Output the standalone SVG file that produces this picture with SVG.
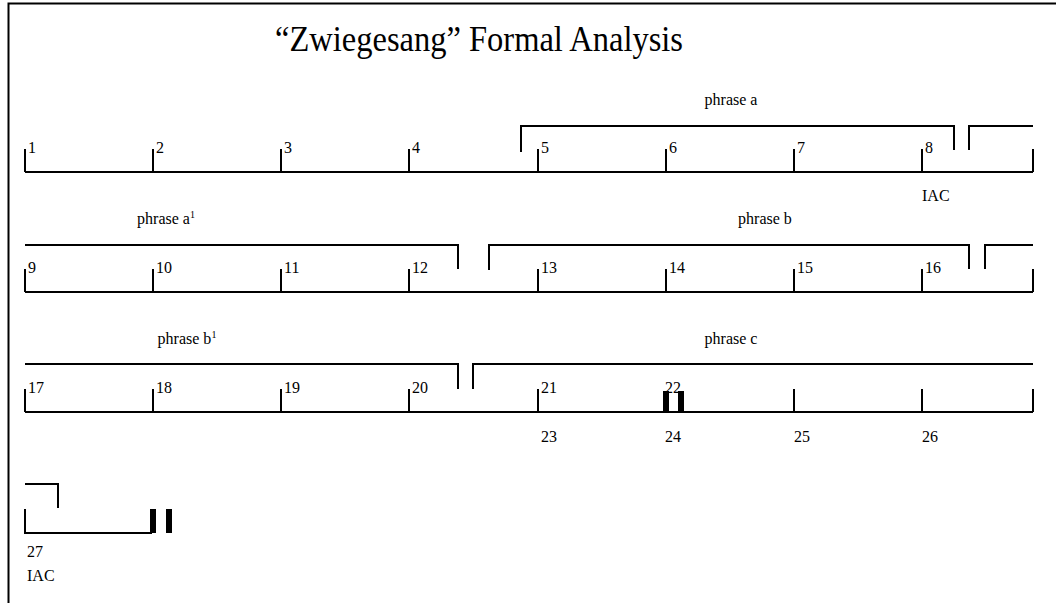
<svg xmlns="http://www.w3.org/2000/svg" width="1056" height="603" viewBox="0 0 1056 603">
  <style>
    .ln { stroke: #000; stroke-width: 2; fill: none; }
    .bar { fill: #000; }
    text { font-family: "Liberation Serif", "Times New Roman", serif; fill: #000; }
    .num { font-size: 16px; }
    .lab { font-size: 16px; }
    .title { font-size: 35px; }
  </style>
  <rect width="1056" height="603" fill="#fff"/>

  <!-- page frame -->
  <g id="frame">
    <path class="ln" d="M8.5 603 V3.5 H1056" stroke-width="2.5"/>
  </g>

  <text id="title" class="title" x="275" y="51" textLength="408" lengthAdjust="spacingAndGlyphs">“Zwiegesang” Formal Analysis</text>

  <!-- measure lines with bar ticks -->
  <g id="connectors">
    <!-- system 1: bars 1-8 -->
    <path class="ln" d="M25 172 H1033 M25 149 V172 M153 149 V172 M281 149 V172 M409 149 V172 M538 149 V172 M666 149 V172 M794 149 V172 M922 149 V172 M1033 149 V172"/>
    <!-- system 2: bars 9-16 -->
    <path class="ln" d="M25 292 H1033 M25 269 V292 M153 269 V292 M281 269 V292 M409 269 V292 M538 269 V292 M666 269 V292 M794 269 V292 M922 269 V292 M1033 269 V292"/>
    <!-- system 3: bars 17-26 -->
    <path class="ln" d="M25 412 H1033 M25 389 V412 M153 389 V412 M281 389 V412 M409 389 V412 M538 389 V412 M794 389 V412 M922 389 V412 M1033 389 V412"/>
    <rect class="bar" x="663" y="391" width="6" height="21"/>
    <rect class="bar" x="678" y="391" width="6" height="21"/>
    <!-- system 4: bar 27 -->
    <path class="ln" d="M25 509 V533 H152"/>
    <rect class="bar" x="150" y="509" width="6" height="24"/>
    <rect class="bar" x="166" y="509" width="6" height="24"/>
  </g>

  <!-- phrase brackets -->
  <g id="phrase-a">
    <path class="ln" d="M521 152 V126 H954 V150"/>
    <text class="lab" x="731" y="105" text-anchor="middle">phrase a</text>
  </g>
  <g id="phrase-a-cont">
    <path class="ln" d="M969 150 V126 H1033"/>
  </g>
  <g id="phrase-a1">
    <path class="ln" d="M25 245 H458 V269"/>
    <text class="lab" x="166" y="224" text-anchor="middle">phrase a<tspan font-size="10" dy="-6">1</tspan></text>
  </g>
  <g id="phrase-b">
    <path class="ln" d="M489 270 V245 H969 V269"/>
    <text class="lab" x="765" y="224" text-anchor="middle">phrase b</text>
  </g>
  <g id="phrase-b-cont">
    <path class="ln" d="M985 269 V245 H1033"/>
  </g>
  <g id="phrase-b1">
    <path class="ln" d="M25 364 H458 V389"/>
    <text class="lab" x="187" y="344" text-anchor="middle">phrase b<tspan font-size="10" dy="-6">1</tspan></text>
  </g>
  <g id="phrase-c">
    <path class="ln" d="M473 389 V364 H1033"/>
    <text class="lab" x="731" y="344" text-anchor="middle">phrase c</text>
  </g>
  <g id="phrase-c-end">
    <path class="ln" d="M25 484 H58 V508"/>
  </g>

  <!-- measure numbers -->
  <g id="numbers" class="num">
    <text x="28" y="153">1</text>
    <text x="156" y="153">2</text>
    <text x="284" y="153">3</text>
    <text x="412" y="153">4</text>
    <text x="541" y="153">5</text>
    <text x="669" y="153">6</text>
    <text x="797" y="153">7</text>
    <text x="925" y="153">8</text>

    <text x="28" y="273">9</text>
    <text x="156" y="273">10</text>
    <text x="284" y="273">11</text>
    <text x="412" y="273">12</text>
    <text x="541" y="273">13</text>
    <text x="669" y="273">14</text>
    <text x="797" y="273">15</text>
    <text x="925" y="273">16</text>

    <text x="28" y="393">17</text>
    <text x="156" y="393">18</text>
    <text x="284" y="393">19</text>
    <text x="412" y="393">20</text>
    <text x="541" y="393">21</text>
    <text x="665" y="393">22</text>

    <text x="541" y="442">23</text>
    <text x="665" y="442">24</text>
    <text x="794" y="442">25</text>
    <text x="922" y="442">26</text>

    <text x="27" y="557">27</text>
  </g>

  <g id="cadences" class="lab">
    <text x="922" y="201">IAC</text>
    <text x="27" y="581">IAC</text>
  </g>
</svg>
